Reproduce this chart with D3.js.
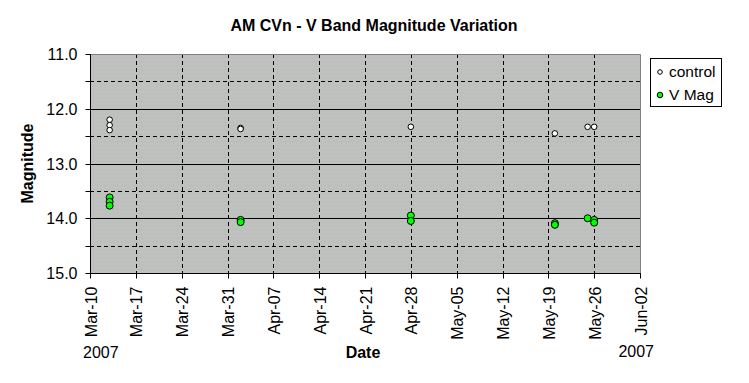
<!DOCTYPE html>
<html><head><meta charset="utf-8">
<script src="https://cdn.jsdelivr.net/npm/d3@7"></script>
<style>
body{margin:0;background:#fff;}
svg text{font-family:"Liberation Sans",Arial,sans-serif;}
</style></head>
<body><svg id="c" width="749" height="383"></svg>
<script>
// ---- data ----
const controlDates = ["2007-03-13","2007-03-13","2007-03-13","2007-04-02","2007-04-02","2007-04-28","2007-05-20","2007-05-25","2007-05-26"];
const controlMags  = [12.20,12.30,12.39,12.35,12.37,12.33,12.45,12.33,12.33];
const vmagDates = ["2007-03-13","2007-03-13","2007-03-13","2007-04-02","2007-04-02","2007-04-28","2007-04-28","2007-05-20","2007-05-20","2007-05-25","2007-05-26","2007-05-26"];
const vmagMags  = [13.62,13.70,13.77,14.03,14.07,13.95,14.05,14.09,14.12,14.00,14.03,14.08];
const yTicks = [11.0,11.5,12.0,12.5,13.0,13.5,14.0,14.5,15.0];
const yLabelTicks = [11.0,12.0,13.0,14.0,15.0];
const xDomain = ["2007-03-10","2007-06-02"];
const xTickDates = ["2007-03-10","2007-03-17","2007-03-24","2007-03-31","2007-04-07","2007-04-14","2007-04-21","2007-04-28","2007-05-05","2007-05-12","2007-05-19","2007-05-26","2007-06-02"];
const seriesNames = ["control","V Mag"];

const svg = d3.select("#c");
const L=90, R=640, T=54, B=273;
const parse = d3.utcParse("%Y-%m-%d");
const x = d3.scaleUtc().domain(xDomain.map(parse)).range([L,R]);
const y = d3.scaleLinear().domain([11,15]).range([T,B]);
const wt = xTickDates.map(parse);

// pattern background
const defs = svg.append("defs");
const pat = defs.append("pattern").attr("id","bg").attr("width",4).attr("height",4).attr("patternUnits","userSpaceOnUse");
pat.append("rect").attr("width",4).attr("height",4).attr("fill","#c0c0c0");
pat.append("rect").attr("x",1).attr("y",1).attr("width",1).attr("height",1).attr("fill","#a4c4a4");
svg.append("rect").attr("x",L).attr("y",T).attr("width",R-L).attr("height",B-T).attr("fill","url(#bg)");

// horizontal grid
svg.append("g").selectAll("line").data(yTicks.filter(v=>v>11&&v<15)).join("line")
  .attr("x1",L).attr("x2",R).attr("y1",d=>Math.round(y(d))+0.5).attr("y2",d=>Math.round(y(d))+0.5)
  .attr("stroke","#000").attr("stroke-width",1)
  .attr("stroke-dasharray",d=>Number.isInteger(d)?null:"4,3");
// vertical grid
svg.append("g").selectAll("line").data(wt.slice(1,-1)).join("line")
  .attr("x1",d=>Math.round(x(d))+0.5).attr("x2",d=>Math.round(x(d))+0.5).attr("y1",T).attr("y2",B)
  .attr("stroke","#000").attr("stroke-dasharray","4,3");

// border
svg.append("path").attr("d",`M${L+0.5},${T+0.5}H${R+0.5}V${B+0.5}`).attr("fill","none").attr("stroke","#808080");

// axes
const yAxis = svg.append("g").attr("transform",`translate(${L+0.5},0)`);
yAxis.append("line").attr("y1",T).attr("y2",B+1).attr("stroke","#000");
yAxis.selectAll(".t").data(yTicks).join("line").attr("x1",-5).attr("x2",0)
  .attr("y1",d=>Math.round(y(d))+0.5).attr("y2",d=>Math.round(y(d))+0.5).attr("stroke","#000");
yAxis.selectAll("text").data(yLabelTicks).join("text").attr("x",-13).attr("y",d=>y(d)+6)
  .attr("text-anchor","end").attr("font-size",16).text(d=>d3.format(".1f")(d));

const xAxis = svg.append("g").attr("transform",`translate(0,${B+0.5})`);
xAxis.append("line").attr("x1",L).attr("x2",R+1).attr("stroke","#000");
xAxis.selectAll(".t").data(wt).join("line").attr("x1",d=>Math.round(x(d))+0.5).attr("x2",d=>Math.round(x(d))+0.5)
  .attr("y1",0).attr("y2",5).attr("stroke","#000");
const fmt = d3.utcFormat("%b-%d");
xAxis.selectAll("text").data(wt).join("text")
  .attr("transform",d=>`translate(${x(d)+6.5},13) rotate(-90)`).attr("text-anchor","end")
  .attr("font-size",16).text(d=>fmt(d));

// titles
svg.append("text").attr("x",374).attr("y",31).attr("text-anchor","middle").attr("font-size",16).attr("font-weight","bold")
  .text("AM CVn - V Band Magnitude Variation");
svg.append("text").attr("transform",`translate(33,${(T+B)/2}) rotate(-90)`).attr("text-anchor","middle")
  .attr("font-size",16).attr("font-weight","bold").text("Magnitude");
svg.append("text").attr("x",363).attr("y",358).attr("text-anchor","middle").attr("font-size",16).attr("font-weight","bold").text("Date");
svg.append("text").attr("x",83).attr("y",358).attr("font-size",16).text("2007");
svg.append("text").attr("x",654).attr("y",357).attr("text-anchor","end").attr("font-size",16).text("2007");

// points
const ctrl = controlDates.map((d,i)=>({d:parse(d),m:controlMags[i]}));
const vm = vmagDates.map((d,i)=>({d:parse(d),m:vmagMags[i]}));
svg.append("g").selectAll("ellipse").data(vm).join("ellipse")
  .attr("cx",d=>x(d.d)).attr("cy",d=>y(d.m)).attr("rx",3.5).attr("ry",3.5)
  .attr("fill","#00ff00").attr("stroke","#000").attr("stroke-width",1);
svg.append("g").selectAll("ellipse").data(ctrl).join("ellipse")
  .attr("cx",d=>x(d.d)).attr("cy",d=>y(d.m)).attr("rx",2.8).attr("ry",2.8)
  .attr("fill","#fff").attr("stroke","#000").attr("stroke-width",1);

// legend
const lg = svg.append("g");
lg.append("rect").attr("x",650.5).attr("y",58.5).attr("width",71).attr("height",48).attr("fill","#fff").attr("stroke","#000");
lg.append("circle").attr("cx",660).attr("cy",72).attr("r",2.3).attr("fill","#fff").attr("stroke","#000");
lg.append("circle").attr("cx",660).attr("cy",95).attr("r",2.8).attr("fill","#00ff00").attr("stroke","#000");
lg.append("text").attr("x",669).attr("y",72).attr("dy","0.35em").attr("font-size",15.5).text(seriesNames[0]);
lg.append("text").attr("x",669).attr("y",95).attr("dy","0.35em").attr("font-size",15.5).text(seriesNames[1]);
</script></body></html>
